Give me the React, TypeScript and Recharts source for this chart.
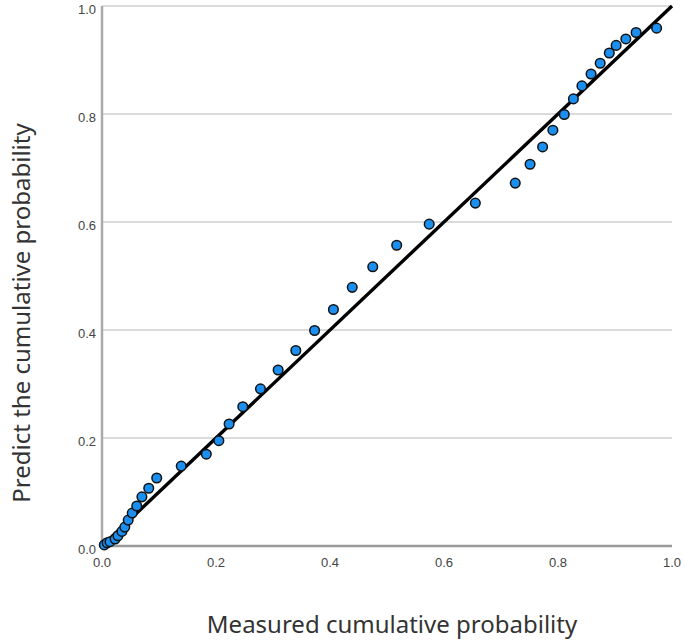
import React from 'react';
import { ScatterChart, Scatter, XAxis, YAxis, CartesianGrid, Label } from 'recharts';

const measured = [0.004, 0.009, 0.014, 0.023, 0.028, 0.035, 0.040, 0.046, 0.053, 0.061, 0.070, 0.082, 0.096, 0.139, 0.183, 0.205, 0.223, 0.247, 0.278, 0.309, 0.340, 0.373, 0.406, 0.439, 0.475, 0.517, 0.574, 0.655, 0.725, 0.751, 0.773, 0.791, 0.811, 0.827, 0.842, 0.858, 0.874, 0.890, 0.902, 0.919, 0.937, 0.973];
const predicted = [0.002, 0.006, 0.008, 0.013, 0.019, 0.027, 0.035, 0.048, 0.061, 0.074, 0.091, 0.107, 0.126, 0.148, 0.170, 0.195, 0.226, 0.258, 0.291, 0.326, 0.362, 0.399, 0.438, 0.479, 0.517, 0.557, 0.596, 0.635, 0.672, 0.707, 0.739, 0.770, 0.799, 0.828, 0.852, 0.874, 0.894, 0.913, 0.927, 0.939, 0.951, 0.959];
const diagonal = [{ x: 0, y: 0 }, { x: 1, y: 1 }];
const ticks = [0, 0.2, 0.4, 0.6, 0.8, 1.0];
const xTitle = 'Measured cumulative probability';
const yTitle = 'Predict the cumulative probability';

const points = measured.map((x, i) => ({ x, y: predicted[i] }));

const tickFont = 'Liberation Sans, Arial, sans-serif';
const titleFont = 'Noto Sans, sans-serif';

const XTick = (props: any) => {
  const { x, y, payload } = props;
  return (
    <text x={x} y={y + 14} textAnchor="middle" dominantBaseline="central" fontFamily={tickFont} fontSize={13} fill="#444">
      {Number(payload.value).toFixed(1)}
    </text>
  );
};

const YTick = (props: any) => {
  const { x, y, payload } = props;
  return (
    <text x={x} y={y + 3} textAnchor="end" dominantBaseline="central" fontFamily={tickFont} fontSize={13} fill="#444">
      {Number(payload.value).toFixed(1)}
    </text>
  );
};

const Dot = (props: any) => {
  const { cx, cy } = props;
  if (cx == null || cy == null) return null;
  return <circle cx={cx} cy={cy} r={4.8} fill="#1b8ff0" stroke="#111" strokeWidth={1.5} />;
};

export default function App() {
  return (
    <div style={{ position: 'absolute', left: 0, top: 0, background: '#fff' }}>
      <ScatterChart width={685} height={642} margin={{ top: 6, right: 13, bottom: 0, left: 0 }}>
        <CartesianGrid vertical={false} stroke="#cfcfcf" strokeWidth={1.5} />
        <XAxis
          type="number"
          dataKey="x"
          domain={[0, 1]}
          ticks={ticks}
          height={96}
          tickLine={false}
          tickSize={0}
          axisLine={{ stroke: '#9a9a9a', strokeWidth: 2.5 }}
          tick={<XTick />}
          interval={0}
        >
          <Label
            content={() => (
              <text x={392} y={633} textAnchor="middle" fontFamily={titleFont} fontSize={24} fill="#333">
                {xTitle}
              </text>
            )}
          />
        </XAxis>
        <YAxis
          type="number"
          dataKey="y"
          domain={[0, 1]}
          ticks={ticks}
          width={102}
          tickLine={false}
          tickSize={0}
          tickMargin={6}
          axisLine={{ stroke: '#aaaaaa', strokeWidth: 2.5 }}
          tick={<YTick />}
          interval={0}
        >
          <Label
            content={() => (
              <text
                x={0}
                y={0}
                transform="translate(30,313) rotate(-90)"
                textAnchor="middle"
                fontFamily={titleFont}
                fontSize={24}
                fill="#333"
              >
                {yTitle}
              </text>
            )}
          />
        </YAxis>
        <Scatter
          data={diagonal}
          line={{ stroke: '#000', strokeWidth: 3.4 }}
          shape={() => null}
          isAnimationActive={false}
        />
        <Scatter data={points} shape={<Dot />} isAnimationActive={false} />
      </ScatterChart>
    </div>
  );
}
